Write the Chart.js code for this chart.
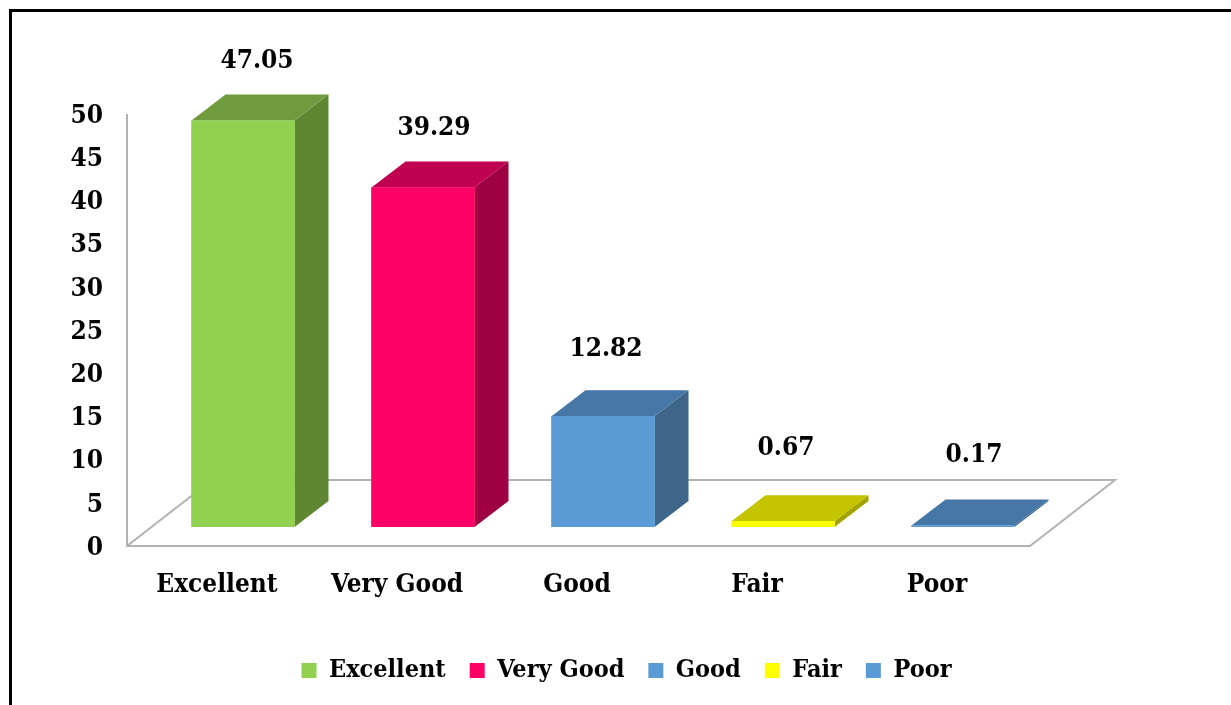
<!DOCTYPE html>
<html>
<head>
<meta charset="utf-8">
<style>html,body{margin:0;padding:0;background:#fff;overflow:hidden}canvas{display:block}</style>
<script src="https://cdn.jsdelivr.net/npm/chart.js@4"></script>
</head>
<body>
<canvas id="c" width="1231" height="705"></canvas>
<script>
const categories = ['Excellent', 'Very Good', 'Good', 'Fair', 'Poor'];
const values = [47.05, 39.29, 12.82, 0.67, 0.17];
const valueLabels = ['47.05', '39.29', '12.82', '0.67', '0.17'];
const frontColors = ['#92D050', '#FF0066', '#5B9BD5', '#FFFF00', '#5B9BD5'];
const topColors = ['#6F9A3E', '#C00050', '#4777A6', '#C4C400', '#4777A6'];
const sideColors = ['#5F8733', '#9E0042', '#3E6689', '#A3A300', '#3E6689'];
const labelOffsetX = [14, 11, 3, 3, 11];
const labelOffsetY = [59, 59, 67, 73, 70];

const FONT = '"DejaVu Serif Condensed", "DejaVu Serif", serif';
const FS = 26;
const LEGEND_FS = 25;
const DX = 34, DY = 26;

const scene = {
  id: 'scene',
  beforeDraw(chart) {
    const c = chart.ctx;
    c.save();
    c.fillStyle = '#fff';
    c.fillRect(0, 0, chart.width, chart.height);
    c.strokeStyle = '#000';
    c.lineWidth = 3;
    c.beginPath();
    c.moveTo(10.5, 705);
    c.lineTo(10.5, 10.5);
    c.lineTo(1231, 10.5);
    c.stroke();
    c.restore();
  },
  beforeDatasetsDraw(chart) {
    const c = chart.ctx, y = chart.scales.y, x = chart.scales.x;
    const bottom = y.getPixelForValue(0);
    const top50 = y.getPixelForValue(50);
    const fy = bottom + 19, bx = x.right + 62, by = bottom - 47;
    c.save();
    c.strokeStyle = '#B2B2B2';
    c.lineWidth = 2;
    c.beginPath();
    c.moveTo(127, top50 + 19);
    c.lineTo(127, fy);
    c.lineTo(1030, fy);
    c.lineTo(bx, by);
    c.lineTo(212, by);
    c.lineTo(127, fy);
    c.stroke();
    const meta = chart.getDatasetMeta(0);
    meta.data.forEach((bar, i) => {
      const w = bar.width / 2, l = bar.x - w, r = bar.x + w, t = bar.y, b = bar.base;
      c.fillStyle = sideColors[i];
      c.beginPath();
      c.moveTo(r, t); c.lineTo(r + DX, t - DY); c.lineTo(r + DX, b - DY); c.lineTo(r, b);
      c.closePath(); c.fill();
      c.fillStyle = topColors[i];
      c.beginPath();
      c.moveTo(l, t); c.lineTo(l + DX, t - DY); c.lineTo(r + DX, t - DY); c.lineTo(r, t);
      c.closePath(); c.fill();
    });
    c.restore();
  },
  afterDatasetsDraw(chart) {
    const c = chart.ctx;
    c.save();
    c.fillStyle = '#000';
    c.font = 'bold ' + FS + 'px ' + FONT;
    c.textAlign = 'center';
    c.textBaseline = 'middle';
    chart.getDatasetMeta(0).data.forEach((bar, i) => {
      c.fillText(valueLabels[i], bar.x + labelOffsetX[i], bar.y - labelOffsetY[i]);
    });
    c.restore();
  }
};

new Chart(document.getElementById('c'), {
  type: 'bar',
  data: {
    labels: categories,
    datasets: [{
      data: values,
      backgroundColor: frontColors,
      borderWidth: 0,
      barThickness: 103,
      yAxisID: 'y'
    }]
  },
  plugins: [scene],
  options: {
    responsive: false,
    animation: false,
    devicePixelRatio: 1,
    layout: { padding: { left: 22, top: 95, right: 0, bottom: 12 } },
    plugins: {
      tooltip: { enabled: false },
      legend: {
        position: 'bottom',
        onClick: null,
        labels: {
          color: '#000',
          font: { family: FONT, size: LEGEND_FS, weight: 'bold' },
          boxWidth: 15,
          boxHeight: 15,
          padding: 24,
          generateLabels: () => categories.map((name, i) => ({
            text: name,
            fillStyle: frontColors[i],
            strokeStyle: frontColors[i],
            lineWidth: 0,
            index: i
          }))
        }
      }
    },
    scales: {
      x: {
        grid: { display: false },
        border: { display: false },
        afterFit(s) { s.height = 107; },
        ticks: {
          color: '#000',
          font: { family: FONT, size: FS, weight: 'bold' },
          padding: 35,
          labelOffset: -26,
          maxRotation: 0,
          autoSkip: false
        }
      },
      y: {
        min: 0,
        max: 50,
        position: 'left',
        grid: { display: false },
        border: { display: false },
        afterFit(s) { s.width = 131; },
        ticks: {
          stepSize: 5,
          color: '#000',
          font: { family: FONT, size: FS, weight: 'bold' },
          padding: 42,
          labelOffset: 21
        }
      },
      spacer: {
        position: 'right',
        grid: { display: false },
        border: { display: false },
        ticks: { display: false },
        afterFit(s) { s.width = 178; }
      }
    }
  }
});
</script>
</body>
</html>
